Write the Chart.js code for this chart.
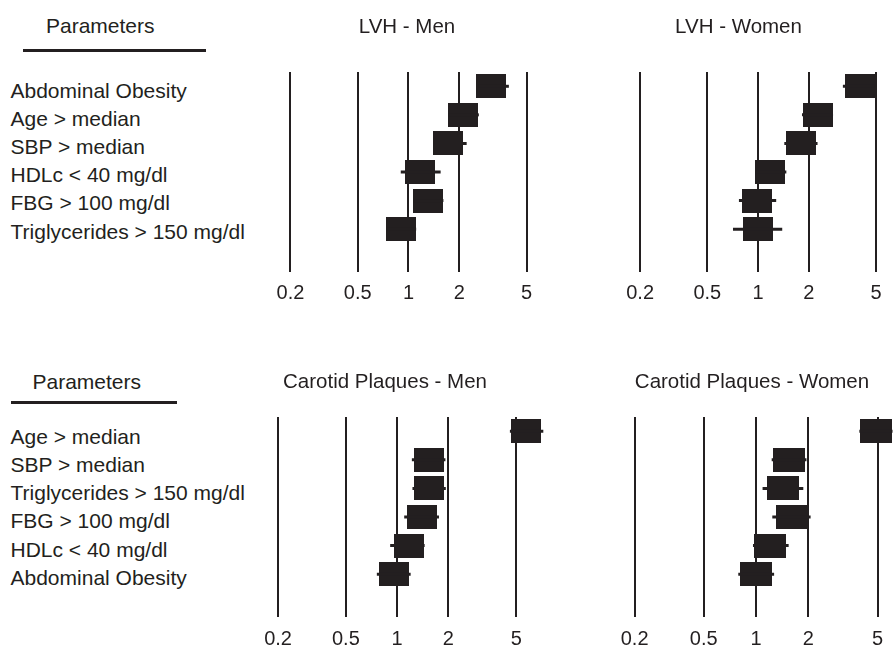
<!DOCTYPE html>
<html>
<head>
<meta charset="utf-8">
<script src="https://cdn.jsdelivr.net/npm/chart.js@4/dist/chart.umd.min.js"></script>
<style>
  html, body { margin: 0; padding: 0; background: #fff; overflow: hidden; }
  body { width: 893px; height: 646px; position: relative; font-family: "Liberation Sans", Arial, sans-serif; color: #231f20; }
  .panel { position: absolute; }
  .head { position: absolute; font-size: 21px; line-height: 21px; white-space: nowrap; }
  .rule { position: absolute; height: 3px; background: #231f20; }
  .rows { position: absolute; font-size: 21px; line-height: 28.2px; white-space: nowrap; }
</style>
</head>
<body>
<script>
// Row labels (top to bottom)
const lvhParams = ['Abdominal Obesity', 'Age > median', 'SBP > median',
    'HDLc < 40 mg/dl', 'FBG > 100 mg/dl', 'Triglycerides > 150 mg/dl'];
const plaqueParams = ['Age > median', 'SBP > median', 'Triglycerides > 150 mg/dl',
    'FBG > 100 mg/dl', 'HDLc < 40 mg/dl', 'Abdominal Obesity'];

// Odds-ratio axis
const tickValues = [0.2, 0.5, 1, 2, 5];
const tickLabels = ['0.2', '0.5', '1', '2', '5'];

// LVH - Men
const lvhMenOR   = [3.10, 2.10, 1.72, 1.17, 1.30, 0.90];
const lvhMenLow  = [2.60, 1.72, 1.42, 0.90, 1.07, 0.74];
const lvhMenHigh = [3.93, 2.61, 2.21, 1.55, 1.61, 1.11];

// LVH - Women
const lvhWomenOR   = [4.02, 2.26, 1.80, 1.18, 0.98, 1.00];
const lvhWomenLow  = [3.18, 1.82, 1.43, 0.96, 0.77, 0.71];
const lvhWomenHigh = [4.90, 2.78, 2.25, 1.47, 1.28, 1.39];

// Carotid Plaques - Men
const plaqueMenOR   = [5.74, 1.53, 1.54, 1.40, 1.17, 0.96];
const plaqueMenLow  = [4.59, 1.22, 1.23, 1.10, 0.91, 0.76];
const plaqueMenHigh = [7.21, 1.92, 1.93, 1.76, 1.45, 1.20];

// Carotid Plaques - Women
const plaqueWomenOR   = [4.88, 1.55, 1.42, 1.62, 1.21, 1.00];
const plaqueWomenLow  = [3.93, 1.23, 1.09, 1.24, 0.96, 0.79];
const plaqueWomenHigh = [6.10, 1.95, 1.87, 2.06, 1.54, 1.27];

const INK = '#231f20';
const FONT = '"Liberation Sans", Arial, sans-serif';

// left column: header, rule and parameter names
const columns = [
    { items: lvhParams, headLeft: 46, headTop: 14.7, ruleLeft: 23, ruleTop: 48.5, ruleWidth: 183, rowsLeft: 10.5, rowsTop: 76.6 },
    { items: plaqueParams, headLeft: 32.5, headTop: 371.4, ruleLeft: 11, ruleTop: 401, ruleWidth: 166, rowsLeft: 10.5, rowsTop: 422.8 }
];

columns.forEach(c => {
    const head = document.createElement('div');
    head.className = 'head';
    head.textContent = 'Parameters';
    head.style.left = c.headLeft + 'px';
    head.style.top = c.headTop + 'px';
    document.body.appendChild(head);

    const rule = document.createElement('div');
    rule.className = 'rule';
    rule.style.left = c.ruleLeft + 'px';
    rule.style.top = c.ruleTop + 'px';
    rule.style.width = c.ruleWidth + 'px';
    document.body.appendChild(rule);

    const rows = document.createElement('div');
    rows.className = 'rows';
    rows.style.left = c.rowsLeft + 'px';
    rows.style.top = c.rowsTop + 'px';
    c.items.forEach(t => {
        const d = document.createElement('div');
        d.textContent = t;
        rows.appendChild(d);
    });
    document.body.appendChild(rows);
});

const panels = [
    { title: 'LVH - Men', or: lvhMenOR, low: lvhMenLow, high: lvhMenHigh,
      left: 253, top: 0, width: 308, height: 314, xMin: 0.12, xMax: 8,
      titlePad: { top: 14.7, bottom: 32.7 }, tickPad: 9, box: [30, 24] },
    { title: 'LVH - Women', or: lvhWomenOR, low: lvhWomenLow, high: lvhWomenHigh,
      left: 584, top: 0, width: 309, height: 314, xMin: 0.093, xMax: 6.3,
      titlePad: { top: 14.7, bottom: 32.7 }, tickPad: 9, box: [30, 24] },
    { title: 'Carotid Plaques - Men', or: plaqueMenOR, low: plaqueMenLow, high: plaqueMenHigh,
      left: 219, top: 340, width: 332, height: 321, xMin: 0.09, xMax: 8,
      titlePad: { top: 29.7, bottom: 22.7 }, tickPad: 10, box: [30, 24] },
    { title: 'Carotid Plaques - Women', or: plaqueWomenOR, low: plaqueWomenLow, high: plaqueWomenHigh,
      left: 611, top: 340, width: 282, height: 321, xMin: 0.15, xMax: 5.85,
      titlePad: { top: 29.7, bottom: 22.7 }, tickPad: 10, box: [32, 24] }
];

function makeBox(w, h) {
    const c = document.createElement('canvas');
    c.width = w;
    c.height = h;
    const g = c.getContext('2d');
    g.fillStyle = INK;
    g.fillRect(0, 0, w, h);
    return c;
}

function buildPanel(p) {
    const wrap = document.createElement('div');
    wrap.className = 'panel';
    wrap.style.left = p.left + 'px';
    wrap.style.top = p.top + 'px';
    const canvas = document.createElement('canvas');
    canvas.width = p.width;
    canvas.height = p.height;
    wrap.appendChild(canvas);
    document.body.appendChild(wrap);

    // confidence interval whiskers, one line per row
    const ciSets = p.or.map((_, i) => ({
        data: [{ x: p.low[i], y: i }, { x: p.high[i], y: i }],
        showLine: true,
        borderColor: INK,
        borderWidth: 3,
        pointRadius: 0,
        clip: false
    }));

    const boxSet = {
        data: p.or.map((v, i) => ({ x: v, y: i })),
        pointStyle: makeBox(p.box[0], p.box[1]),
        pointRadius: 12,
        clip: false
    };

    return new Chart(canvas, {
        type: 'scatter',
        data: { datasets: [...ciSets, boxSet] },
        options: {
            responsive: false,
            animation: false,
            events: [],
            // no automatic room for the point markers: the plot area is the canvas width
            layout: { padding: 0, autoPadding: false },
            plugins: {
                legend: { display: false },
                tooltip: { enabled: false },
                title: {
                    display: true,
                    text: p.title,
                    color: INK,
                    font: { family: FONT, size: 20.5, weight: 'normal' },
                    padding: p.titlePad
                }
            },
            scales: {
                x: {
                    type: 'logarithmic',
                    min: p.xMin,
                    max: p.xMax,
                    afterBuildTicks: axis => {
                        axis.ticks = tickValues.map(v => ({ value: v }));
                    },
                    grid: { color: INK, lineWidth: 2, drawTicks: false },
                    border: { display: false },
                    ticks: {
                        color: INK,
                        font: { family: FONT, size: 20 },
                        padding: p.tickPad,
                        autoSkip: false,
                        maxRotation: 0,
                        callback: (v, i) => tickLabels[i]
                    }
                },
                y: { type: 'linear', min: -0.5, max: 6.5, reverse: true, display: false }
            }
        }
    });
}

panels.forEach(buildPanel);
</script>
</body>
</html>
